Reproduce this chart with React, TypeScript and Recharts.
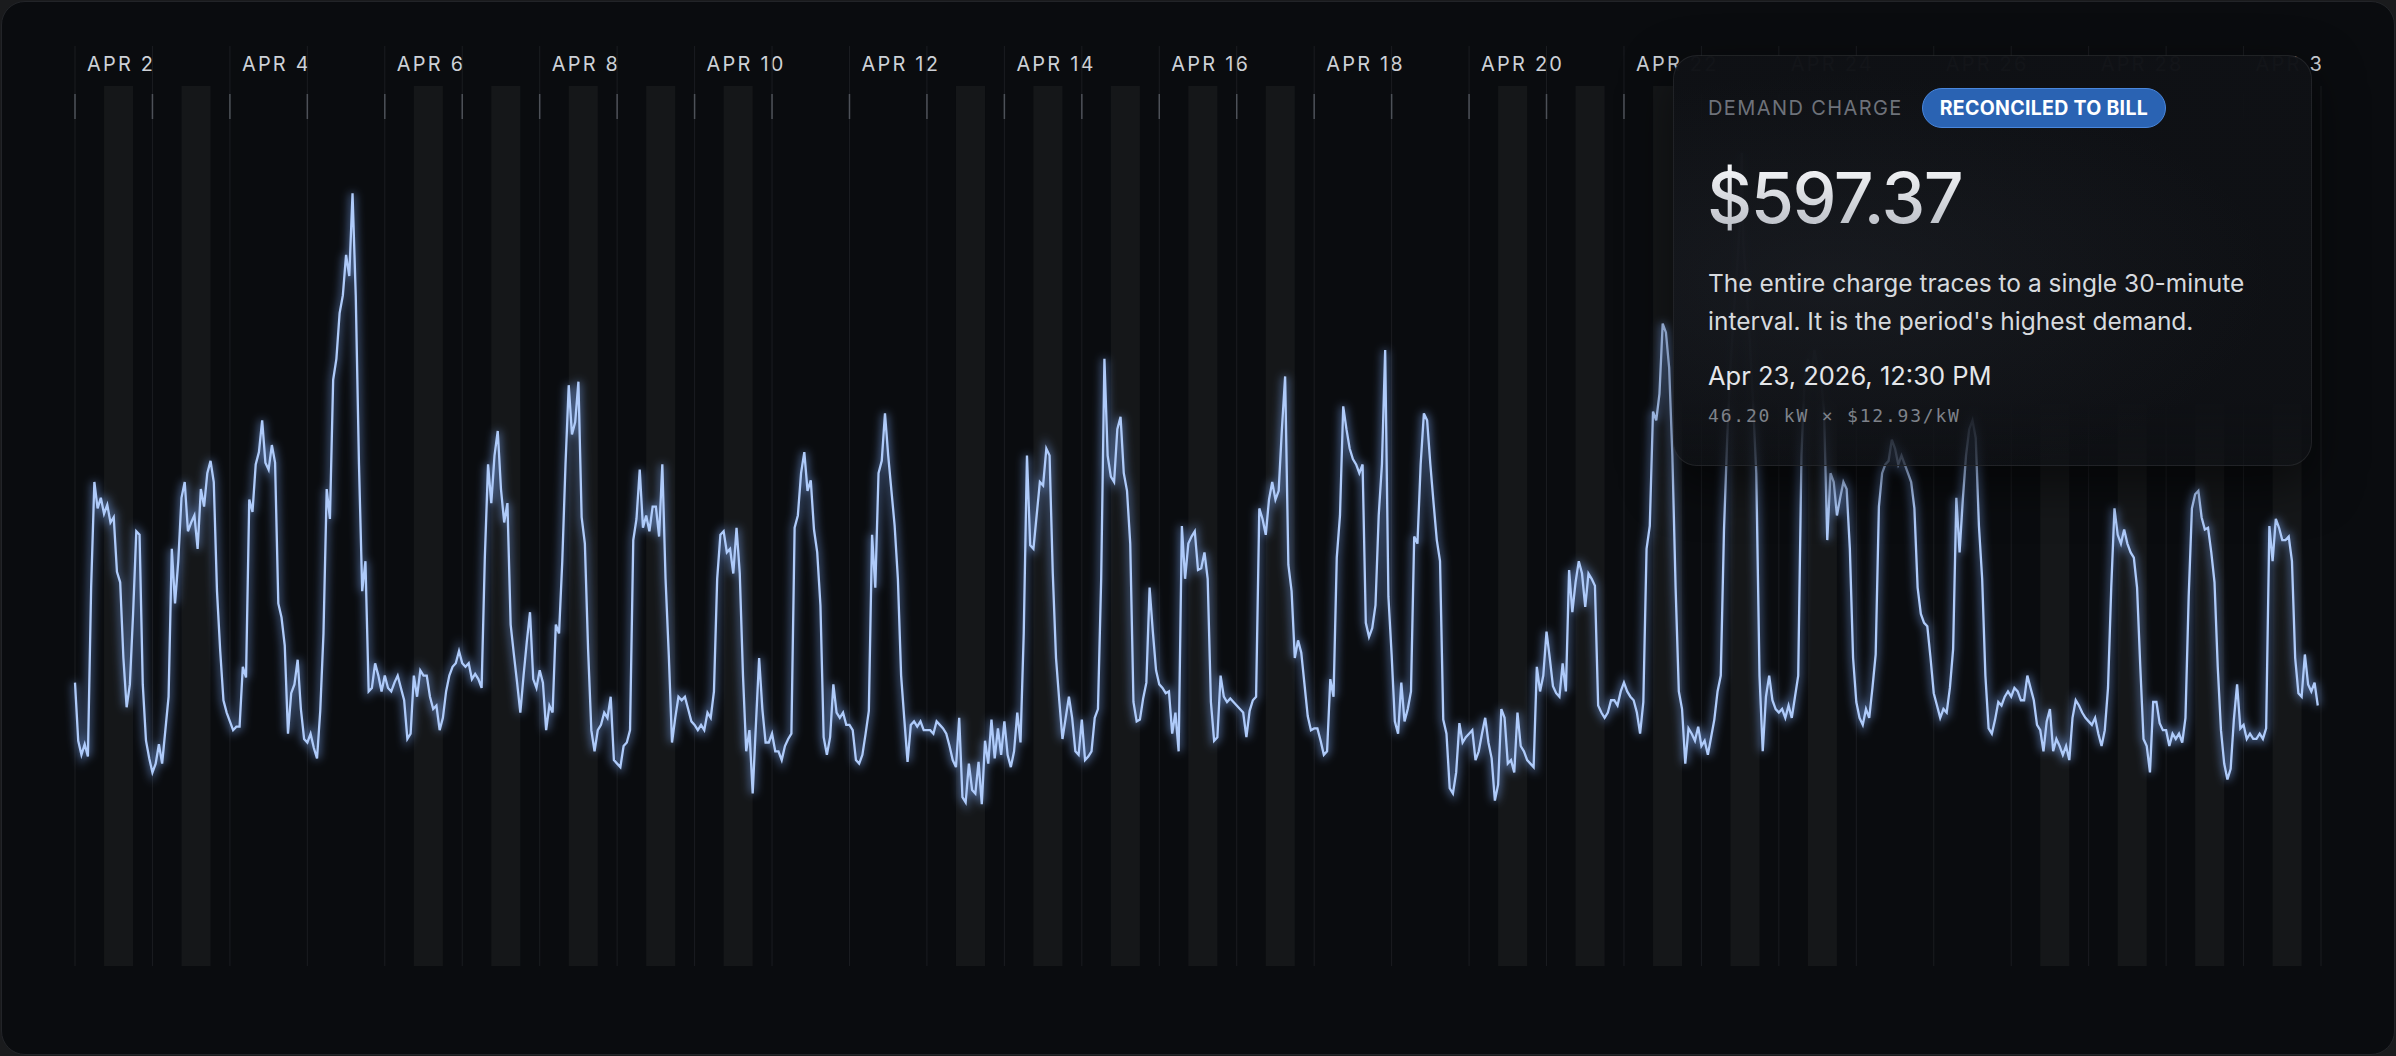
import { LineChart, Line, XAxis, YAxis, ReferenceArea, CartesianGrid } from 'recharts';

const W = 2396;
const H = 1056;
const PLOT = { left: 75, right: 2321, top: 86, bottom: 966 };

// hourly demand in kW, 24 readings per day, starting Apr 2 00:00
const APR_02_05 = [
  16.1, 12.8, 12.0, 12.6, 11.9, 21.5, 27.5, 26.0, 26.6, 25.7, 26.2, 25.2, 25.5, 22.4, 21.8, 17.5, 14.7, 16.0, 20.0, 24.7, 24.5, 16.0, 12.8, 11.8,
  11.0, 11.5, 12.6, 11.5, 13.4, 15.3, 23.7, 20.6, 23.0, 26.6, 27.5, 24.7, 25.2, 25.6, 23.7, 27.1, 26.1, 28.0, 28.7, 27.5, 21.3, 17.9, 15.1, 14.4,
  13.9, 13.4, 13.6, 13.6, 17.0, 16.4, 26.5, 25.8, 28.5, 29.2, 31.0, 28.6, 28.2, 29.6, 28.6, 20.6, 19.8, 18.2, 13.2, 15.5, 16.0, 17.4, 14.6, 12.9,
  12.7, 13.2, 12.4, 11.8, 14.5, 18.9, 27.1, 25.4, 33.3, 34.5, 37.1, 38.1, 40.4, 39.2, 43.9, 38.1, 28.5, 21.3, 23.0, 15.6, 15.8, 17.2, 16.5, 15.6,
];
const APR_06_12 = [
  16.5, 15.8, 15.6, 16.1, 16.5, 15.8, 15.1, 12.9, 13.2, 16.5, 15.3, 16.8, 16.5, 16.5, 15.3, 14.6, 14.8, 13.4, 14.1, 15.6, 16.5, 17.0, 17.2, 17.9,
  17.2, 17.0, 17.2, 16.3, 16.6, 16.3, 15.8, 23.2, 28.5, 26.3, 29.0, 30.4, 27.1, 25.2, 26.3, 19.4, 17.7, 16.1, 14.4, 16.5, 18.4, 20.1, 16.3, 15.8,
  16.8, 16.1, 13.4, 14.8, 14.4, 19.4, 18.9, 23.0, 28.5, 33.0, 30.2, 30.9, 33.2, 25.5, 24.0, 18.0, 13.4, 12.2, 13.4, 13.7, 14.4, 14.1, 15.3, 11.7,
  11.5, 11.3, 12.5, 12.7, 13.4, 24.2, 25.4, 28.2, 24.9, 25.6, 24.7, 26.1, 26.1, 24.4, 28.5, 22.0, 17.7, 12.7, 14.1, 15.3, 15.1, 15.3, 14.6, 13.9,
  13.7, 13.4, 13.7, 13.4, 14.4, 14.1, 15.6, 22.0, 24.5, 24.7, 23.5, 23.7, 22.3, 24.9, 22.3, 16.5, 12.2, 13.4, 9.8, 13.7, 17.5, 14.6, 12.7, 12.7,
  13.2, 12.2, 12.2, 11.7, 12.5, 12.9, 13.2, 24.9, 25.6, 28.0, 29.2, 27.0, 27.6, 24.8, 23.5, 20.5, 13.0, 12.0, 13.0, 16.0, 14.4, 14.1, 14.4, 13.7,
  13.7, 13.4, 11.7, 11.5, 12.0, 13.2, 14.5, 24.5, 21.5, 28.0, 28.7, 31.4, 29.0, 27.0, 25.0, 22.0, 16.5, 14.0, 11.6, 13.7, 13.9, 13.6, 13.9, 13.4,
];
const APR_13_19 = [
  13.4, 13.4, 13.2, 13.9, 13.7, 13.5, 13.2, 12.5, 11.7, 11.3, 14.1, 9.6, 9.3, 11.5, 10.0, 9.8, 11.6, 9.2, 12.8, 11.5, 14.0, 11.8, 13.5, 12.0,
  13.9, 12.0, 11.3, 12.2, 14.4, 12.7, 18.9, 29.0, 23.9, 23.7, 25.6, 27.5, 27.3, 29.4, 29.0, 22.3, 17.5, 15.1, 12.9, 14.1, 15.3, 14.1, 12.2, 12.0,
  14.0, 11.7, 11.9, 12.2, 14.1, 14.6, 22.0, 34.5, 29.0, 27.8, 27.5, 30.5, 31.2, 28.0, 27.0, 24.0, 15.0, 13.9, 14.0, 15.2, 16.1, 21.5, 19.0, 16.8,
  16.0, 15.8, 15.5, 15.6, 13.2, 14.4, 12.2, 25.0, 22.0, 24.0, 24.4, 24.7, 22.5, 22.6, 23.5, 22.0, 15.0, 12.8, 13.0, 16.5, 15.3, 15.0, 15.2, 15.0,
  14.8, 14.6, 14.4, 13.0, 14.5, 15.1, 15.3, 26.0, 25.4, 24.5, 26.5, 27.5, 26.5, 27.0, 30.5, 33.5, 22.8, 21.3, 17.5, 18.5, 17.8, 16.0, 14.2, 13.4,
  13.5, 13.5, 12.8, 12.0, 12.2, 16.3, 15.3, 23.2, 25.6, 31.8, 30.5, 29.4, 28.8, 28.5, 28.0, 28.5, 19.5, 18.7, 19.2, 20.5, 25.6, 28.5, 35.0, 21.0,
  17.7, 13.9, 13.2, 16.1, 13.9, 14.6, 15.6, 24.4, 24.0, 28.5, 31.4, 31.0, 28.5, 26.3, 24.2, 23.0, 14.0, 13.2, 10.1, 9.8, 11.0, 13.8, 12.7, 13.0,
];
const APR_20_26 = [
  13.2, 13.4, 11.7, 12.2, 13.2, 14.1, 12.7, 11.8, 9.4, 10.3, 14.6, 14.1, 11.5, 11.7, 11.0, 14.4, 12.5, 12.2, 11.7, 11.5, 11.3, 17.0, 15.6, 16.5,
  19.0, 17.5, 15.9, 15.5, 15.3, 17.2, 15.6, 22.5, 20.1, 21.8, 23.0, 22.3, 20.4, 22.3, 22.0, 21.6, 14.8, 14.4, 14.1, 14.4, 15.1, 15.1, 14.8, 15.6,
  16.1, 15.6, 15.3, 15.1, 14.4, 13.2, 15.0, 23.7, 25.0, 31.5, 31.0, 32.5, 36.5, 36.0, 34.0, 29.0, 21.5, 15.6, 14.6, 11.5, 13.5, 13.2, 12.8, 13.6,
  12.5, 12.8, 12.0, 13.0, 14.0, 15.6, 16.5, 24.8, 30.0, 34.0, 37.0, 39.5, 42.5, 41.0, 38.5, 35.5, 32.0, 28.0, 16.5, 12.2, 15.3, 16.5, 15.1, 14.6,
  14.4, 14.6, 14.1, 14.8, 14.1, 15.3, 16.5, 29.0, 33.5, 34.5, 33.0, 35.0, 34.0, 33.5, 31.5, 24.2, 28.0, 27.5, 25.6, 26.6, 27.5, 27.1, 23.7, 17.5,
  15.0, 14.1, 13.7, 14.6, 14.1, 15.8, 17.7, 26.1, 28.0, 28.5, 28.7, 29.9, 29.4, 28.5, 29.0, 28.5, 28.0, 27.5, 26.0, 21.5, 20.0, 19.5, 19.3, 17.5,
  15.5, 14.8, 14.1, 14.6, 14.4, 15.8, 18.0, 26.6, 23.5, 26.5, 29.0, 30.5, 31.0, 30.0, 25.0, 22.0, 16.5, 13.5, 13.2, 14.0, 15.0, 14.8, 15.3, 15.6,
];
const APR_27_30 = [
  15.3, 15.8, 15.6, 15.1, 15.1, 16.5, 15.8, 15.1, 13.7, 13.4, 12.2, 13.9, 14.6, 12.2, 12.9, 12.5, 12.0, 12.5, 11.7, 14.1, 15.1, 14.8, 14.4, 14.1,
  13.9, 13.7, 14.1, 13.2, 12.5, 13.4, 15.8, 21.5, 26.0, 24.5, 24.0, 24.8, 24.0, 23.5, 23.2, 21.5, 17.0, 12.9, 12.5, 11.0, 15.0, 15.0, 13.8, 13.4,
  13.4, 12.5, 13.2, 12.9, 13.2, 12.7, 14.1, 21.0, 26.0, 26.8, 27.0, 25.5, 24.8, 24.9, 23.5, 21.8, 17.0, 13.4, 11.5, 10.6, 11.2, 14.0, 16.0, 13.5,
  13.7, 12.9, 13.2, 12.9, 12.9, 13.2, 12.9, 13.5, 25.0, 23.0, 25.4, 24.9, 24.2, 24.2, 24.4, 23.0, 17.5, 15.5, 15.3, 17.7, 16.0, 15.6, 16.1, 14.8,
];

// the billed 30-minute interval: Apr 23, 12:30 PM
const PEAK_HOUR = 21 * 24 + 12.5;
const PEAK_KW = 46.2;

const DAY_LABELS = [
  'APR 2', '', 'APR 4', '', 'APR 6', '', 'APR 8', '', 'APR 10', '', 'APR 12', '', 'APR 14', '', 'APR 16',
  '', 'APR 18', '', 'APR 20', '', 'APR 22', '', 'APR 24', '', 'APR 26', '', 'APR 28', '', 'APR 30',
];
// weekdays carry the 9:00–18:00 peak window
const PEAK_DATES = [2, 3, 6, 7, 8, 9, 10, 13, 14, 15, 16, 17, 20, 21, 22, 23, 24, 27, 28, 29, 30];
const PEAK_WINDOW = [9, 18];

const hourly = [...APR_02_05, ...APR_06_12, ...APR_13_19, ...APR_20_26, ...APR_27_30];
const data = hourly
  .map((kw, h) => ({ h, kw }))
  .concat([{ h: PEAK_HOUR, kw: PEAK_KW }])
  .sort((a, b) => a.h - b.h);
const dayTicks = DAY_LABELS.map((_, i) => i * 24);

const BG = '#0a0c0f';
const GRID = '#1b1d21';
const TICK = '#4d5158';
const LABEL = '#cdd1d7';
const BAND = '#151719';
const TRACE = '#afcbfa';

function DayTick({ x, payload }: any) {
  const label = DAY_LABELS[Math.round(payload.value / 24)];
  return (
    <g>
      <line x1={x} x2={x} y1={46} y2={PLOT.top} stroke={GRID} />
      <line x1={x} x2={x} y1={94} y2={119} stroke={TICK} strokeWidth={1.5} />
      {label && (
        <text x={x + 12} y={71} fill={LABEL} fontSize={20} fontWeight={400} letterSpacing={2.2}
          fontFamily="Inter, sans-serif" clipPath="url(#labelClip)">
          {label}
        </text>
      )}
    </g>
  );
}

function ChargeCard() {
  return (
    <div style={{
      position: 'absolute', left: 1673, top: 55, width: 639, height: 411, boxSizing: 'border-box',
      borderRadius: 24, border: '1.5px solid rgba(255,255,255,0.08)',
      background: 'linear-gradient(180deg, rgba(15,17,21,0.985) 0%, rgba(15,17,21,0.975) 84%, rgba(15,17,21,0.72) 100%)',
      boxShadow: '0 18px 50px rgba(0,0,0,0.55)', fontFamily: 'Inter, sans-serif', overflow: 'hidden',
    }}>
      <div style={{ position: 'absolute', inset: 0, background: 'radial-gradient(ellipse at 25% 55%, rgba(40,44,52,0.35), rgba(0,0,0,0) 65%)' }} />
      <div style={{ position: 'absolute', left: 34, top: 31, height: 41, display: 'flex', alignItems: 'center', gap: 19 }}>
        <span style={{ color: '#6e727a', fontSize: 20, letterSpacing: 1.4 }}>DEMAND CHARGE</span>
        <span style={{
          background: '#2a63b3', border: '1.5px solid #4a87dc', color: '#fff', fontWeight: 700, fontSize: 19.5,
          lineHeight: '22px', padding: '8px 17px', borderRadius: 999, letterSpacing: 0.3,
        }}>RECONCILED TO BILL</span>
      </div>
      <div style={{
        position: 'absolute', left: 33, top: 107, fontSize: 70, lineHeight: '70px', fontWeight: 500, letterSpacing: -1.5,
        background: 'linear-gradient(180deg, #f6f7f9, #b8bcc4)', WebkitBackgroundClip: 'text', backgroundClip: 'text', color: 'transparent',
      }}>$597.37</div>
      <div style={{ position: 'absolute', left: 34, top: 208, width: 560, fontSize: 24.5, lineHeight: '38px', color: '#d7dade' }}>
        The entire charge traces to a single 30-minute interval. It is the period's highest demand.
      </div>
      <div style={{ position: 'absolute', left: 34, top: 304, fontSize: 25.5, lineHeight: '32px', color: '#e4e6ea' }}>
        Apr 23, 2026, 12:30 PM
      </div>
      <div style={{
        position: 'absolute', left: 34, top: 348, fontSize: 18, lineHeight: '24px', color: '#7e828a',
        fontFamily: '"DejaVu Sans Mono", monospace', letterSpacing: 1.8,
      }}>46.20 kW × $12.93/kW</div>
    </div>
  );
}

export default function App() {
  return (
    <div style={{ position: 'fixed', left: 0, top: 0, width: W, height: H, background: '#1a1b1d', overflow: 'hidden' }}>
      <div style={{ position: 'absolute', inset: 1, borderRadius: 24, background: BG, border: '1px solid #222428' }} />
      <svg width={0} height={0} style={{ position: 'absolute' }}>
        <defs>
          <filter id="traceGlow" x="-2%" y="-15%" width="104%" height="130%">
            <feGaussianBlur stdDeviation="4" />
          </filter>
          <clipPath id="labelClip">
            <rect x={0} y={0} width={PLOT.right} height={H} />
          </clipPath>
        </defs>
      </svg>
      <div style={{ position: 'absolute', left: 0, top: 0 }}>
        <LineChart width={W} height={H} data={data}
          margin={{ top: PLOT.top - 30, right: W - PLOT.right, bottom: H - PLOT.bottom, left: PLOT.left }}>
          <CartesianGrid horizontal={false} stroke={GRID} />
          <XAxis dataKey="h" type="number" orientation="top" height={30} domain={[0, 696]} ticks={dayTicks}
            interval={0} axisLine={false} tickLine={false} tick={<DayTick />} />
          <YAxis type="number" domain={[0, 50]} hide />
          {PEAK_DATES.map((d) => (
            <ReferenceArea key={d} x1={(d - 2) * 24 + PEAK_WINDOW[0]} x2={(d - 2) * 24 + PEAK_WINDOW[1]}
              fill={BAND} fillOpacity={1} stroke="none" />
          ))}
          <Line type="linear" dataKey="kw" stroke="#7ea8f5" strokeOpacity={0.5} strokeWidth={6} dot={false}
            activeDot={false} filter="url(#traceGlow)" isAnimationActive={false} />
          <Line type="linear" dataKey="kw" stroke={TRACE} strokeWidth={2.3} dot={false} activeDot={false}
            isAnimationActive={false} />
        </LineChart>
      </div>
      <ChargeCard />
    </div>
  );
}
